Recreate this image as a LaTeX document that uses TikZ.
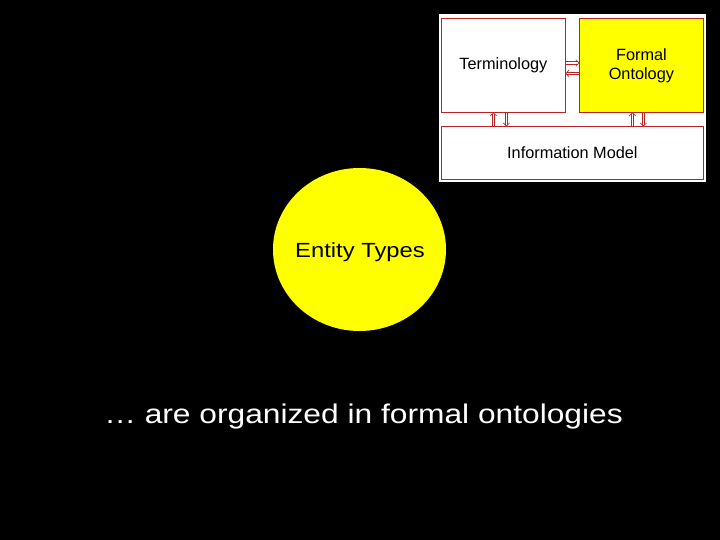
\documentclass[tikz,border=0pt]{standalone}
\usepackage{fontspec}
\setmainfont{Liberation Sans}
\newfontfamily\widefont[FakeStretch=1.16]{Liberation Sans}
\newfontfamily\captionfont[FakeStretch=1.175]{Liberation Sans}
\usetikzlibrary{shapes.geometric,calc}
\definecolor{boxred}{RGB}{185,35,35}
\definecolor{slideyellow}{RGB}{255,255,0}
\tikzset{
  insetbox/.style={draw=boxred, line width=0.8pt, anchor=north west, inner sep=0pt,
    font=\fontsize{16.3}{19}\selectfont, align=center},
  arrline/.style={draw=boxred, line width=0.6pt, line cap=butt, line join=miter}
}
% hollow double arrow from #1 to #2 (named coordinates)
\newcommand{\dblarr}[2]{%
  \coordinate (da-n) at ($(#2)!1.2pt!(#1)$);
  \coordinate (da-b) at ($(#2)!3.2pt!(#1)$);
  \draw[arrline] ($(#1)!1.3pt!90:(#2)$) -- ($(da-n)!1.3pt!90:(#2)$);
  \draw[arrline] ($(#1)!1.3pt!-90:(#2)$) -- ($(da-n)!1.3pt!-90:(#2)$);
  \draw[arrline] ($(da-b)!3.3pt!90:(#2)$) -- (#2) -- ($(da-b)!3.3pt!-90:(#2)$);
}
\begin{document}
\begin{tikzpicture}[x=1pt,y=-1pt]
\fill[black] (0,0) rectangle (720,540);
\useasboundingbox (0,0) rectangle (720,540);
% inset panel
\fill[white] (439,14) rectangle (706,182);
\node[insetbox, minimum width=124pt, minimum height=94pt, fill=white] (term) at (441,18) {Terminology};
\node[insetbox, minimum width=124pt, minimum height=94pt, fill=slideyellow] (onto) at (579,18) {Formal\\Ontology};
\node[insetbox, minimum width=262pt, minimum height=53pt, fill=white] (info) at (441,126) {Information Model};
% arrow end points, taken from the boxes
\coordinate (h1s) at ($(term.east)+(0,-2.5)$);
\coordinate (h1e) at ($(onto.west)+(0,-2.5)$);
\coordinate (h2s) at ($(onto.west)+(0,8)$);
\coordinate (h2e) at ($(term.east)+(0,8)$);
\coordinate (v1s) at ($(term.south |- info.north)+(-10,0)$);
\coordinate (v1e) at ($(term.south)+(-10,0)$);
\coordinate (v2s) at ($(term.south)+(3,0)$);
\coordinate (v2e) at ($(term.south |- info.north)+(3,0)$);
\coordinate (v3s) at ($(onto.south |- info.north)+(-9,0)$);
\coordinate (v3e) at ($(onto.south)+(-9,0)$);
\coordinate (v4s) at ($(onto.south)+(2,0)$);
\coordinate (v4e) at ($(onto.south |- info.north)+(2,0)$);
\dblarr{h1s}{h1e}
\dblarr{h2s}{h2e}
\dblarr{v1s}{v1e}
\dblarr{v2s}{v2e}
\dblarr{v3s}{v3e}
\dblarr{v4s}{v4e}
% circle
\node[ellipse, fill=slideyellow, minimum width=173pt, minimum height=163pt, inner sep=0pt] (ent) at (359.5,249.5) {};
\node[anchor=base, inner sep=0pt, font=\widefont\fontsize{20.5}{24}\selectfont] (entlabel) at (360,257) {Entity Types};
% caption
\node[anchor=base, inner sep=0pt, text=white, font=\captionfont\fontsize{27}{32}\selectfont] (caption) at (363.5,423) {… are organized in formal ontologies};
\end{tikzpicture}
\end{document}
